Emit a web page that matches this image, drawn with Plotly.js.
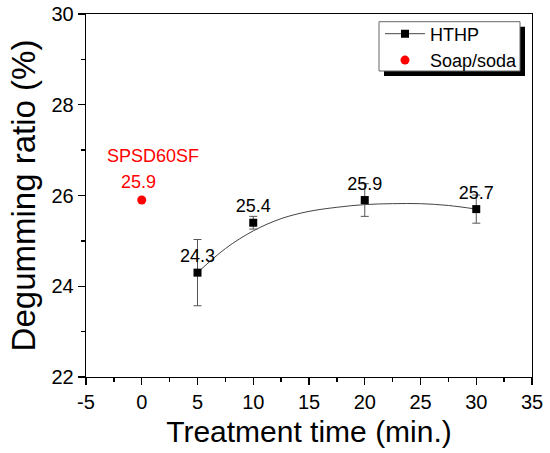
<!DOCTYPE html>
<html>
<head>
<meta charset="utf-8">
<script src="https://cdn.plot.ly/plotly-3.0.1.min.js"></script>
<style>html,body{margin:0;padding:0;background:#fff;}#chart{width:550px;height:453px;}</style>
</head>
<body>
<div id="chart"></div>
<script>
// HTHP measurements
const hthpTime = [5, 10, 20, 30];
const hthpRatio = [24.3, 25.4, 25.9, 25.7];
const hthpErr = [0.73, 0.14, 0.36, 0.31];
const hthpLabels = ['24.3', '25.4', '25.9', '25.7'];
// Fitted curve
const fitTime = [5, 7.5, 10, 12.5, 15, 17.5, 20, 22.5, 25, 27.5, 30];
const fitRatio = [24.30, 24.83, 25.22, 25.49, 25.65, 25.74, 25.80, 25.82, 25.82, 25.78, 25.70];
// Soap/soda reference
const soapTime = [0];
const soapRatio = [25.9];
const soapLabel = '25.9';
const soapName = 'SPSD60SF';
// Tick labels
const xTickVals = [-5, 0, 5, 10, 15, 20, 25, 30, 35];
const xTickText = ['-5', '0', '5', '10', '15', '20', '25', '30', '35'];
const yTickVals = [22, 24, 26, 28, 30];
const yTickText = ['22', '24', '26', '28', '30'];

const FONT = 'Liberation Sans, Arial, sans-serif';
const W = 550, H = 453, ML = 86, MR = 18, MT = 14, MB = 76;
const PW = W - ML - MR, PH = H - MT - MB;
function px2x(p) { return (p - ML) / PW; }
function px2y(p) { return 1 - (p - MT) / PH; }

const traces = [
  {
    x: fitTime, y: fitRatio, mode: 'lines', type: 'scatter',
    line: {color: '#444', width: 1, shape: 'spline'},
    showlegend: false, hoverinfo: 'skip'
  },
  {
    x: hthpTime, y: hthpRatio, mode: 'markers+text', type: 'scatter',
    name: 'HTHP', showlegend: false,
    marker: {symbol: 'square', size: 8, color: '#000'},
    text: hthpLabels, textposition: 'top center',
    textfont: {family: FONT, size: 18, color: '#000'},
    error_y: {type: 'data', array: hthpErr, visible: true, color: '#555', thickness: 1, width: 4}
  },
  {
    x: [null], y: [null], mode: 'lines+markers', type: 'scatter',
    name: 'HTHP',
    line: {color: '#444', width: 1},
    marker: {symbol: 'square', size: 8, color: '#000'}
  },
  {
    x: soapTime, y: soapRatio, mode: 'markers', type: 'scatter',
    name: 'Soap/soda',
    marker: {symbol: 'circle', size: 9, color: '#ff0000'}
  }
];

const axisCommon = {
  showgrid: false, zeroline: false,
  showline: true, linecolor: '#000', linewidth: 1.3, mirror: true,
  ticks: 'outside', ticklen: 7, tickwidth: 1.3, tickcolor: '#000',
  tickfont: {family: FONT, size: 20, color: '#000'}
};

// legend frame (decoration) in pixels
const boxL = 379, boxR = 520, boxT = 21.7, boxB = 71, shadow = 5;

const layout = {
  width: W, height: H,
  margin: {l: ML, r: MR, t: MT, b: MB},
  paper_bgcolor: '#fff', plot_bgcolor: '#fff',
  font: {family: FONT, color: '#000'},
  xaxis: Object.assign({}, axisCommon, {
    range: [-5, 35], tickmode: 'array', tickvals: xTickVals, ticktext: xTickText,
    minor: {dtick: 2.5, tick0: -5, ticks: 'outside', ticklen: 4, tickwidth: 1.3, tickcolor: '#000'},
    title: {text: 'Treatment time (min.)', font: {family: FONT, size: 30, color: '#000'}, standoff: 8}
  }),
  yaxis: Object.assign({}, axisCommon, {
    range: [22, 30], tickmode: 'array', tickvals: yTickVals, ticktext: yTickText,
    minor: {dtick: 1, tick0: 22, ticks: 'outside', ticklen: 4, tickwidth: 1.3, tickcolor: '#000'},
    title: {text: 'Degumming ratio (%)', font: {family: FONT, size: 33, color: '#000'}, standoff: 6}
  }),
  legend: {
    x: px2x(380), y: px2y(15.5), xanchor: 'left', yanchor: 'top',
    bgcolor: 'rgba(0,0,0,0)', borderwidth: 0,
    font: {family: FONT, size: 18, color: '#000'},
    itemwidth: 40, tracegroupgap: 0
  },
  shapes: [
    {type: 'rect', xref: 'paper', yref: 'paper',
     x0: px2x(boxL + shadow), x1: px2x(boxR + shadow), y0: px2y(boxB + shadow), y1: px2y(boxT + shadow),
     fillcolor: '#000', line: {width: 0}, layer: 'above'},
    {type: 'rect', xref: 'paper', yref: 'paper',
     x0: px2x(boxL), x1: px2x(boxR), y0: px2y(boxB), y1: px2y(boxT),
     fillcolor: '#fff', line: {width: 1, color: '#666'}, layer: 'above'}
  ],
  annotations: [
    {x: soapTime[0], y: soapRatio[0], xref: 'x', yref: 'y', text: soapLabel, showarrow: false,
     xshift: -3, yshift: 18, font: {family: FONT, size: 18, color: '#ff0000'}},
    {x: soapTime[0], y: soapRatio[0], xref: 'x', yref: 'y', text: soapName, showarrow: false,
     xshift: 11, yshift: 44, font: {family: FONT, size: 18, color: '#ff0000'}}
  ],
  showlegend: true
};

Plotly.newPlot('chart', traces, layout, {staticPlot: true});
</script>
</body>
</html>
